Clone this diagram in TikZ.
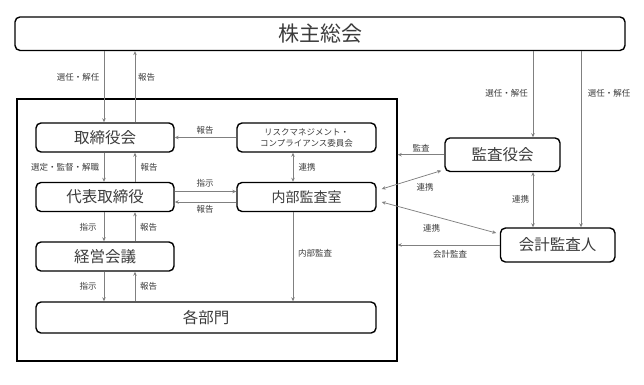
\documentclass[tikz,border=0pt]{standalone}
\usepackage{fontspec}
\setmainfont{Noto Sans CJK JP}
\usetikzlibrary{arrows.meta}
\definecolor{linegray}{RGB}{128,128,128}
\definecolor{txtgray}{RGB}{60,60,60}
\begin{document}
\begin{tikzpicture}[x=1pt,y=-1pt,
  box/.style={draw=black,line width=1.4pt,rounded corners=5pt,inner sep=0pt,text=txtgray,font=\fontsize{15.5}{18}\selectfont},
  arr/.style={draw=linegray,line width=0.75pt,-{Stealth[length=4pt,width=3.5pt]}},
  darr/.style={draw=linegray,line width=0.75pt,{Stealth[length=4pt,width=3.5pt]}-{Stealth[length=4pt,width=3.5pt]}},
  lbl/.style={text=txtgray,font=\fontsize{8.5}{10}\selectfont,inner sep=0pt}]
\useasboundingbox (0,0) rectangle (644,384);
% boxes
\node[box,minimum width=610pt,minimum height=33.5pt,font=\fontsize{21}{24}\selectfont] (top) at (320,33.7) {株主総会};
\node[draw=black,line width=1.4pt,minimum width=380pt,minimum height=262pt,inner sep=0pt] (outer) at (207,230) {};
\node[box,minimum width=138pt,minimum height=29pt] (tori) at (105,137.5) {取締役会};
\node[box,minimum width=139pt,minimum height=29pt,align=center,font=\fontsize{8.5}{11}\selectfont] (risk) at (306.5,137.5) {リスクマネジメント・\\コンプライアンス委員会};
\node[box,minimum width=138pt,minimum height=29pt] (daihyo) at (105,197) {代表取締役};
\node[box,minimum width=139pt,minimum height=29pt,font=\fontsize{14}{16}\selectfont] (naibu) at (306.5,197) {内部監査室};
\node[box,minimum width=138pt,minimum height=29pt] (keiei) at (105,256.5) {経営会議};
\node[box,minimum width=340pt,minimum height=31pt] (kakubu) at (206,317.5) {各部門};
\node[box,minimum width=115pt,minimum height=33.5pt] (kansa) at (502.5,154.7) {監査役会};
\node[box,minimum width=114.5pt,minimum height=34pt] (kaikei) at (557.7,245) {会計監査人};
% helper coordinates
\coordinate (xa) at (104,0);
\coordinate (xb) at (135,0);
\coordinate (xc) at (293,0);
\coordinate (xd) at (533,0);
\coordinate (xe) at (581,0);
\coordinate (ya) at (0,137.5);
\coordinate (yb) at (0,191.5);
\coordinate (yc) at (0,202);
% left column
\draw[arr] (xa |- top.south) -- (xa |- tori.north);
\draw[arr] (xb |- tori.north) -- (xb |- top.south);
\draw[arr] (xa |- tori.south) -- (xa |- daihyo.north);
\draw[arr] (xb |- daihyo.north) -- (xb |- tori.south);
\draw[arr] (xa |- daihyo.south) -- (xa |- keiei.north);
\draw[arr] (xb |- keiei.north) -- (xb |- daihyo.south);
\draw[arr] (xa |- keiei.south) -- (xa |- kakubu.north);
\draw[arr] (xb |- kakubu.north) -- (xb |- keiei.south);
% middle
\draw[arr] (risk.west |- ya) -- (tori.east |- ya);
\draw[arr] (daihyo.east |- yb) -- (naibu.west |- yb);
\draw[arr] (naibu.west |- yc) -- (daihyo.east |- yc);
\draw[darr] (xc |- risk.south) -- (xc |- naibu.north);
\draw[arr] (xc |- naibu.south) -- (xc |- kakubu.north);
% right side
\draw[arr] (xd |- top.south) -- (xd |- kansa.north);
\draw[arr] (xe |- top.south) -- (xe |- kaikei.north);
\draw[darr] (xd |- kansa.south) -- (xd |- kaikei.north);
\draw[arr] (kansa.west) -- (outer.east |- kansa.west);
\draw[arr] (kaikei.west) -- (outer.east |- kaikei.west);
\draw[darr] ([xshift=5pt,yshift=8pt]naibu.east) -- ([xshift=-3pt,yshift=1.5pt]kansa.south west);
\draw[darr] ([xshift=5pt,yshift=-5pt]naibu.east) -- ([xshift=-3.5pt,yshift=12pt]kaikei.west);
% labels
\node[lbl] at (78,77) {選任・解任};
\node[lbl] at (146.5,77) {報告};
\node[lbl] at (506.5,93) {選任・解任};
\node[lbl] at (609,93) {選任・解任};
\node[lbl] at (205,130.5) {報告};
\node[lbl] at (65,167.3) {選定・監督・解職};
\node[lbl] at (149,167.3) {報告};
\node[lbl] at (307,167.5) {連携};
\node[lbl] at (205,183) {指示};
\node[lbl] at (205,209) {報告};
\node[lbl] at (88,227.3) {指示};
\node[lbl] at (148.7,227.3) {報告};
\node[lbl] at (88,286.5) {指示};
\node[lbl] at (148.7,286.5) {報告};
\node[lbl] at (315,253.3) {内部監査};
\node[lbl] at (421,148) {監査};
\node[lbl] at (425,187.3) {連携};
\node[lbl] at (431.5,228) {連携};
\node[lbl] at (450,254) {会計監査};
\node[lbl] at (520.5,199.3) {連携};
\end{tikzpicture}
\end{document}
